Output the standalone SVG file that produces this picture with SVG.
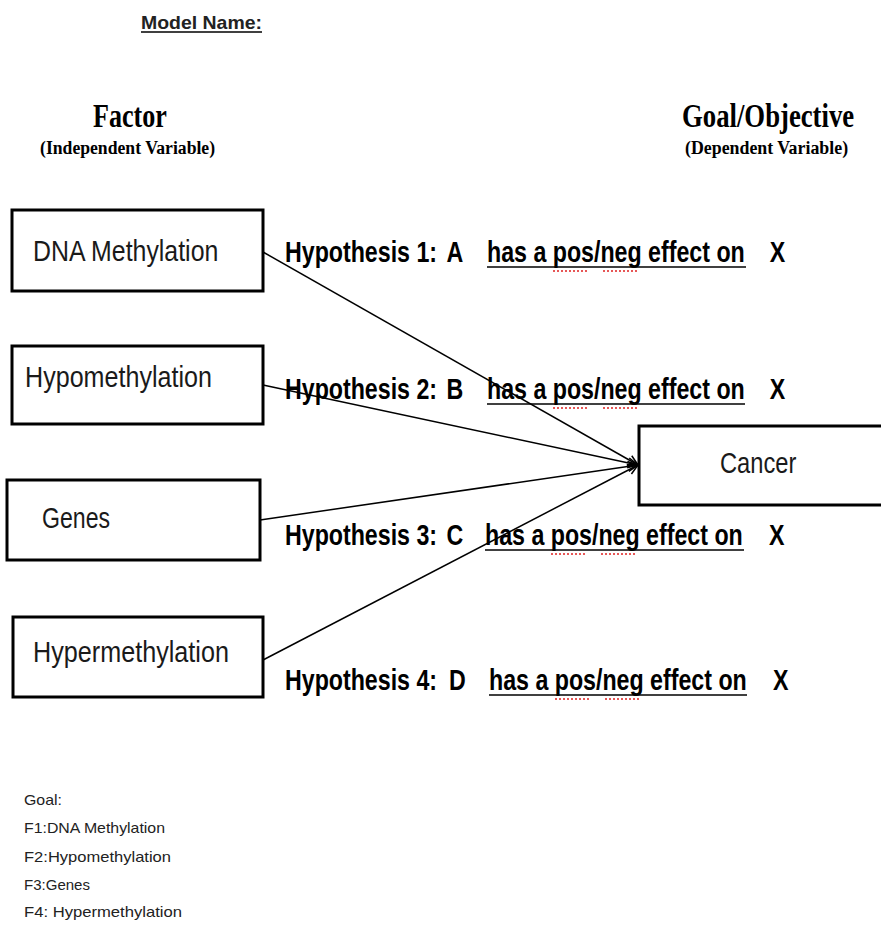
<svg xmlns="http://www.w3.org/2000/svg" width="881" height="928" viewBox="0 0 881 928">
<style>
.box{fill:#fff;stroke:#000;stroke-width:3}
.bt{font-family:"Liberation Sans",Arial,sans-serif;font-size:30px;fill:#1a1a1a}
.hy{font-family:"Liberation Sans",Arial,sans-serif;font-size:29px;font-weight:bold;fill:#000}
.ti{font-family:"Liberation Serif","Times New Roman",serif;font-weight:bold;fill:#000}
.lg{font-family:"Liberation Sans",Arial,sans-serif;font-size:15px;fill:#222}
.ul{stroke:#000;stroke-width:1.6}
.sq{stroke:#e02020;stroke-width:1.5;stroke-dasharray:2 2}
.con{stroke:#000;stroke-width:1.5;fill:none;marker-end:url(#arr)}
</style>
<defs>
<marker id="arr" viewBox="0 0 12 12" refX="11" refY="6" markerWidth="12" markerHeight="12" markerUnits="userSpaceOnUse" orient="auto">
<path d="M1,1 L11,6 L1,11" fill="none" stroke="#000" stroke-width="1.5"/>
</marker>
</defs>
<rect width="881" height="928" fill="#fff"/>

<g id="header">
<text x="141" y="29" font-family="Liberation Sans,Arial,sans-serif" font-size="19" font-weight="bold" fill="#222" textLength="121" lengthAdjust="spacingAndGlyphs">Model Name:</text>
<line class="ul" x1="141" y1="32" x2="262" y2="32"/>
<text class="ti" transform="translate(93,127) scale(0.79,1)" font-size="33">Factor</text>
<text class="ti" transform="translate(40,154) scale(0.93,1)" font-size="19">(Independent Variable)</text>
<text class="ti" transform="translate(682,127) scale(0.81,1)" font-size="33">Goal/Objective</text>
<text class="ti" transform="translate(685,154) scale(0.94,1)" font-size="19">(Dependent Variable)</text>
</g>

<g id="connectors">
<path class="con" d="M263,252 L638,465"/>
<path class="con" d="M263,385 L638,465"/>
<path class="con" d="M260,520 L638,465"/>
<path class="con" d="M263,660 L638,465"/>
</g>

<g id="f1">
<rect class="box" x="12" y="210" width="251" height="81"/>
<text class="bt" transform="translate(33,261) scale(0.83,1)">DNA Methylation</text>
</g>
<g id="f2">
<rect class="box" x="12" y="346" width="251" height="78"/>
<text class="bt" transform="translate(25,387) scale(0.837,1)">Hypomethylation</text>
</g>
<g id="f3">
<rect class="box" x="7" y="480" width="253" height="80"/>
<text class="bt" transform="translate(42,528) scale(0.77,1)">Genes</text>
</g>
<g id="f4">
<rect class="box" x="13" y="617" width="250" height="80"/>
<text class="bt" transform="translate(33,662) scale(0.84,1)">Hypermethylation</text>
</g>
<g id="cancer">
<rect class="box" x="639" y="426" width="246" height="79"/>
<text class="bt" transform="translate(720,473) scale(0.79,1)">Cancer</text>
</g>

<g id="h1">
<g transform="translate(285,262) scale(0.8,1)">
<text class="hy" x="0" y="0">Hypothesis 1:</text>
<text class="hy" x="202" y="0">A</text>
<text class="hy" x="252.5" y="0">has a pos/neg effect on</text>
<text class="hy" x="606" y="0">X</text>
</g>
<line class="ul" x1="487" y1="267" x2="746" y2="267"/>
<line class="sq" x1="553" y1="271" x2="587" y2="271"/>
<line class="sq" x1="603" y1="271" x2="637" y2="271"/>
</g>
<g id="h2">
<g transform="translate(285,399) scale(0.8,1)">
<text class="hy" x="0" y="0">Hypothesis 2:</text>
<text class="hy" x="202" y="0">B</text>
<text class="hy" x="252.5" y="0">has a pos/neg effect on</text>
<text class="hy" x="606" y="0">X</text>
</g>
<line class="ul" x1="487" y1="404" x2="745" y2="404"/>
<line class="sq" x1="553" y1="408" x2="587" y2="408"/>
<line class="sq" x1="603" y1="408" x2="637" y2="408"/>
</g>
<g id="h3">
<g transform="translate(285,545) scale(0.8,1)">
<text class="hy" x="0" y="0">Hypothesis 3:</text>
<text class="hy" x="202" y="0">C</text>
<text class="hy" x="250" y="0">has a pos/neg effect on</text>
<text class="hy" x="605" y="0">X</text>
</g>
<line class="ul" x1="485" y1="550" x2="744" y2="550"/>
<line class="sq" x1="551" y1="554" x2="585" y2="554"/>
<line class="sq" x1="601" y1="554" x2="635" y2="554"/>
</g>
<g id="h4">
<g transform="translate(285,690) scale(0.8,1)">
<text class="hy" x="0" y="0">Hypothesis 4:</text>
<text class="hy" x="205" y="0">D</text>
<text class="hy" x="255" y="0">has a pos/neg effect on</text>
<text class="hy" x="610" y="0">X</text>
</g>
<line class="ul" x1="489" y1="695" x2="747" y2="695"/>
<line class="sq" x1="555" y1="699" x2="589" y2="699"/>
<line class="sq" x1="605" y1="699" x2="639" y2="699"/>
</g>

<g id="legend">
<text class="lg" x="24" y="805" textLength="38" lengthAdjust="spacingAndGlyphs">Goal:</text>
<text class="lg" x="24" y="833" textLength="141" lengthAdjust="spacingAndGlyphs">F1:DNA Methylation</text>
<text class="lg" x="24" y="862" textLength="147" lengthAdjust="spacingAndGlyphs">F2:Hypomethylation</text>
<text class="lg" x="24" y="890" textLength="66" lengthAdjust="spacingAndGlyphs">F3:Genes</text>
<text class="lg" x="24" y="917" textLength="158" lengthAdjust="spacingAndGlyphs">F4: Hypermethylation</text>
</g>
</svg>
